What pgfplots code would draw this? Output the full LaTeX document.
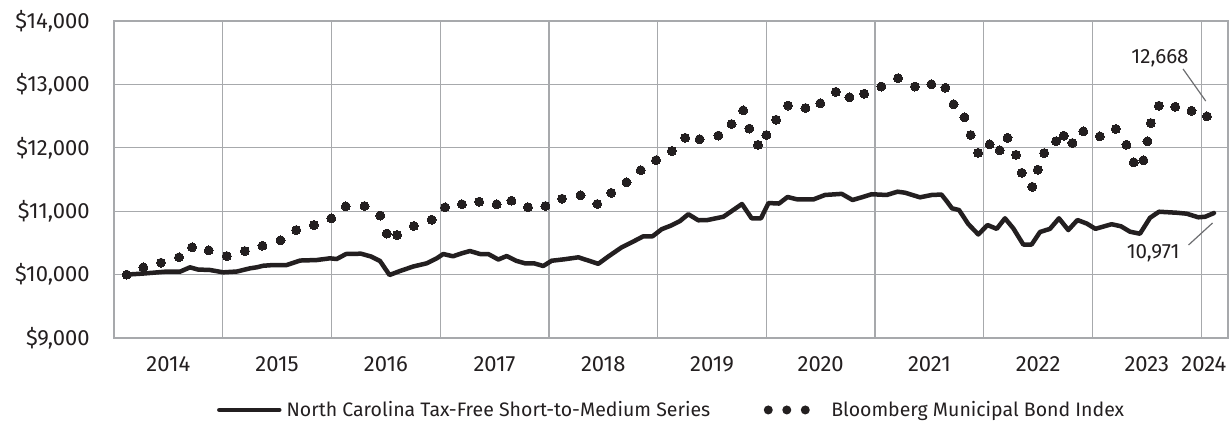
\documentclass[border=0pt]{standalone}
\usepackage{fontspec}
\setmainfont{Fira Sans}
\usepackage{pgfplots}
\pgfplotsset{compat=1.18}
\definecolor{gridgray}{HTML}{A7A9AC}
\definecolor{ink}{HTML}{231F20}
\definecolor{annot}{HTML}{6D6E71}
\begin{document}
\begin{tikzpicture}
\path[use as bounding box] (0,0) rectangle (614.5pt,210pt);
\begin{axis}[
  at={(57pt,41pt)}, anchor=south west,
  scale only axis, width=557pt, height=158.5pt,
  xmin=-1.4, xmax=121.56, ymin=9000, ymax=14000,
  clip=false,
  scaled y ticks=false, scaled x ticks=false,
  xtick={-1.4,10.6,22.6,34.6,46.6,58.6,70.6,82.6,94.6,106.6,118.6},
  xticklabels={},
  extra x ticks={4.6,16.6,28.6,40.6,52.6,64.6,76.6,88.6,100.6,112.6,118.9},
  extra x tick labels={2014,2015,2016,2017,2018,2019,2020,2021,2022,2023,2024},
  extra x tick style={grid=none},
  ytick={9000,10000,11000,12000,13000,14000},
  yticklabels={{\$9,000},{\$10,000},{\$11,000},{\$12,000},{\$13,000},{\$14,000}},
  grid=major,
  grid style={gridgray, line width=0.65pt},
  axis line style={gridgray, line width=0.65pt},
  major tick length=0pt,
  tick style={draw=none},
  tick label style={font=\fontsize{11}{13}\selectfont, text=ink},
  yticklabel style={inner sep=0pt, anchor=east, xshift=-12pt},
  xticklabel style={inner sep=0pt, anchor=base, yshift=-16.5pt},
  legend columns=2,
  legend style={draw=none, fill=none, inner sep=0pt, outer sep=0pt,
    at={(axis description cs:0.0925,-0.2270)}, anchor=west,
    font=\fontsize{9.75}{12}\selectfont, text=ink,
    nodes={inner sep=0pt},
    /tikz/every odd column/.append style={column sep=2.5pt},
    /tikz/every even column/.append style={column sep=26.75pt}},
  legend cell align=left,
]
\addplot[ink, line width=2.25pt, line join=round, line cap=round,
  legend image code/.code={\draw[ink, line width=2.25pt] (0pt,0pt) -- (30pt,0pt);}]
coordinates {
(0,10000) (1.83,10017) (2.94,10030) (4.23,10046) (5.88,10046) (6.99,10115) (7.87,10080) (9.19,10073) (10.66,10036) (12.17,10049) (13.61,10099) (14.35,10115) (15.08,10140) (16.18,10151) (17.66,10151) (19.13,10222) (20.97,10230) (22.44,10257) (23.18,10246) (24.21,10325) (25.86,10330) (26.96,10286) (27.96,10215) (29.01,9994) (30.17,10057) (31.63,10128) (33.11,10178) (34.22,10257) (34.94,10325) (36.02,10289) (36.98,10336) (37.89,10372) (39.00,10325) (39.91,10325) (41.02,10238) (41.94,10293) (42.97,10219) (43.96,10178) (44.96,10178) (45.98,10136) (46.91,10219) (48.27,10241) (49.85,10273) (50.95,10222) (52.05,10170) (53.23,10293) (54.64,10431) (55.92,10522) (57.02,10604) (58.04,10604) (59.05,10716) (60.08,10774) (61.07,10845) (61.99,10953) (63.09,10857) (64.11,10861) (65.87,10913) (66.95,11019) (67.91,11114) (68.98,10888) (70.01,10888) (70.84,11129) (72.00,11121) (72.94,11224) (73.98,11188) (75.78,11185) (77.07,11256) (78.92,11274) (80.11,11177) (81.13,11219) (82.23,11268) (83.89,11256) (85.08,11308) (85.91,11292) (87.56,11219) (88.85,11256) (89.93,11263) (90.54,11153) (91.09,11046) (91.87,11019) (92.89,10798) (94.00,10633) (95.01,10782) (96.03,10722) (96.94,10888) (97.86,10730) (98.96,10475) (99.89,10475) (100.81,10672) (101.91,10722) (102.90,10888) (103.93,10703) (104.94,10861) (105.96,10806) (106.93,10722) (108.72,10795) (109.75,10762) (110.74,10677) (111.84,10645) (112.95,10896) (113.94,10992) (115.89,10976) (117.00,10961) (118.28,10904) (119.02,10912) (120.01,10971)
};
\addlegendentry{North Carolina Tax-Free Short-to-Medium Series}
\addplot[only marks, mark=*, mark size=2.25pt, mark options={draw=ink, fill=ink, line width=0pt},
  legend image code/.code={\fill[ink, draw=none] (0pt,0pt) circle (2.25pt) (9.25pt,0pt) circle (2.25pt) (18.5pt,0pt) circle (2.25pt); \path[draw=none, fill=none] (-2.25pt,0pt) -- (29pt,0pt);}]
coordinates {
(0,10000) (1.84,10115) (3.79,10188) (5.78,10273) (7.22,10431) (9.06,10383) (11.05,10293) (13.04,10372) (14.99,10456) (16.98,10541) (18.71,10703) (20.67,10782) (22.58,10888) (24.18,11077) (26.25,11082) (27.99,10932) (28.71,10648) (29.85,10625) (31.69,10767) (33.66,10866) (35.14,11062) (37.00,11110) (38.90,11150) (40.84,11110) (42.47,11166) (44.29,11063) (46.22,11082) (48.05,11197) (50.09,11252) (51.94,11114) (53.48,11290) (55.17,11456) (56.74,11647) (58.43,11804) (60.17,11950) (61.64,12158) (63.24,12136) (65.31,12194) (66.76,12375) (68.05,12591) (68.73,12304) (69.68,12047) (70.61,12202) (71.68,12443) (72.99,12667) (74.92,12628) (76.56,12703) (78.27,12883) (79.78,12798) (81.40,12853) (83.30,12967) (85.14,13098) (87.00,12967) (88.82,13003) (90.37,12948) (91.27,12688) (92.47,12481) (93.16,12202) (93.98,11921) (95.25,12055) (96.36,11962) (97.22,12158) (98.16,11890) (98.79,11606) (99.96,11385) (100.57,11655) (101.27,11918) (102.58,12104) (103.43,12191) (104.38,12076) (105.59,12260) (107.41,12181) (109.17,12297) (110.35,12049) (111.16,11771) (112.22,11803) (112.67,12103) (113.04,12391) (113.93,12664) (115.73,12648) (117.53,12585) (119.23,12497)
};
\addlegendentry{Bloomberg Municipal Bond Index}
\node[font=\fontsize{10.3}{12}\selectfont, text=ink] at (axis cs:114.05,13416) {12,668};
\draw[annot, line width=0.6pt] (axis cs:116.6,13243) -- (axis cs:119.1,12738);
\node[font=\fontsize{10.3}{12}\selectfont, text=ink] at (axis cs:113.3,10341) {10,971};
\draw[annot, line width=0.6pt] (axis cs:117.2,10467) -- (axis cs:119.85,10814);
\end{axis}
\end{tikzpicture}
\end{document}
